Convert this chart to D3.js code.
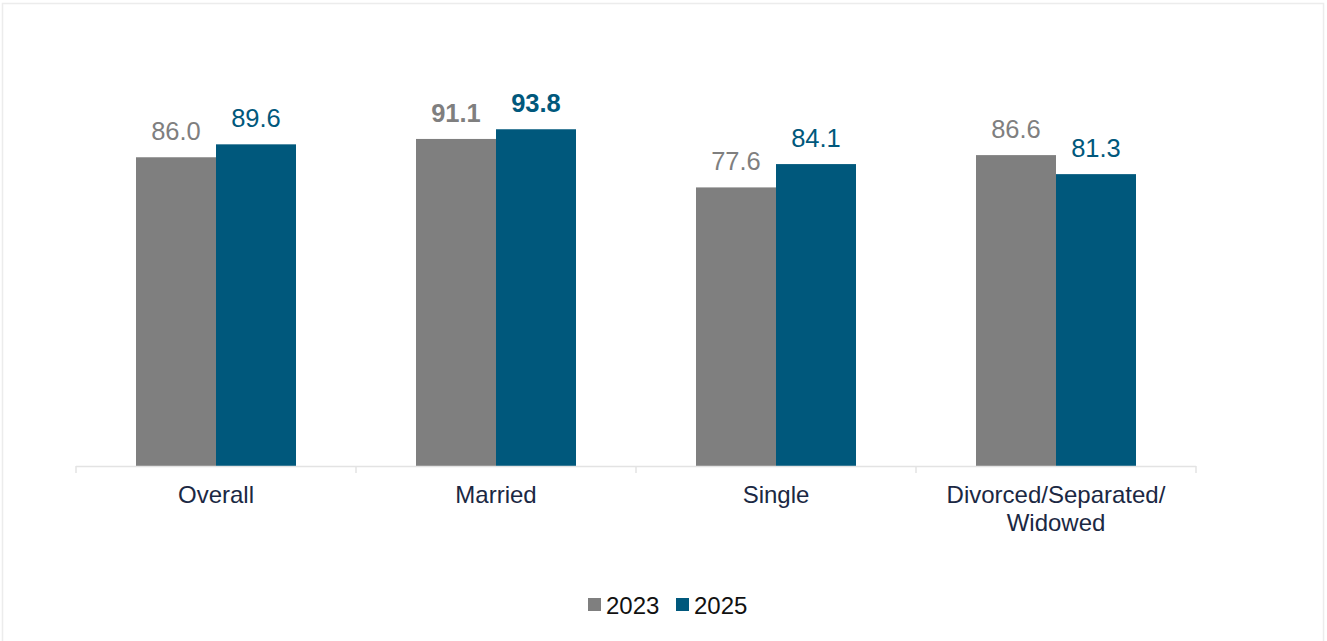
<!DOCTYPE html>
<html>
<head>
<meta charset="utf-8">
<script src="https://cdn.jsdelivr.net/npm/d3@7"></script>
<style>
  html, body { margin: 0; padding: 0; background: #fff; }
  svg { display: block; font-family: "Liberation Sans", Arial, sans-serif; }
</style>
</head>
<body>
<svg id="chart" width="1327" height="641"></svg>
<script>
const categories = ["Overall", "Married", "Single", "Divorced/Separated/\nWidowed"];
const seriesNames = ["2023", "2025"];
const values2023 = [86.0, 91.1, 77.6, 86.6];
const values2025 = [89.6, 93.8, 84.1, 81.3];
const boldCategory = ["Married"];

const colors = { "2023": "#7f7f7f", "2025": "#00587c" };

const svg = d3.select("#chart");

// outer frame
svg.append("rect")
  .attr("x", 2.5).attr("y", 3.5)
  .attr("width", 1321).attr("height", 700)
  .attr("fill", "none").attr("stroke", "#ececec").attr("stroke-width", 1.5);

const x0 = d3.scaleBand().domain(categories).range([76, 1196])
  .paddingInner(120 / 280).paddingOuter(60 / 280);
const x1 = d3.scaleBand().domain(seriesNames).range([0, x0.bandwidth()]);
const y = d3.scaleLinear().domain([0, 100]).range([466, 107]);

const data = categories.map((c, i) => ({
  cat: c,
  vals: [
    { s: "2023", v: values2023[i] },
    { s: "2025", v: values2025[i] }
  ]
}));

const groups = svg.append("g").selectAll("g").data(data).join("g")
  .attr("transform", d => `translate(${x0(d.cat)},0)`);

groups.selectAll("rect").data(d => d.vals).join("rect")
  .attr("x", d => x1(d.s))
  .attr("y", d => y(d.v))
  .attr("width", x1.bandwidth())
  .attr("height", d => y(0) - y(d.v))
  .attr("fill", d => colors[d.s]);

groups.each(function(d) {
  const bold = boldCategory.includes(d.cat);
  d3.select(this).selectAll("text.val").data(d.vals).join("text")
    .attr("class", "val")
    .attr("x", v => x1(v.s) + x1.bandwidth() / 2)
    .attr("y", v => y(v.v) - 17)
    .attr("text-anchor", "middle")
    .attr("font-size", "25.5px")
    .attr("font-weight", bold ? "bold" : "normal")
    .attr("fill", v => colors[v.s])
    .text(v => v.v.toFixed(1));
});

// axis line and ticks
const step = x0.step();
const axisG = svg.append("g");
axisG.append("line")
  .attr("x1", 76).attr("x2", 1196)
  .attr("y1", 466.5).attr("y2", 466.5)
  .attr("stroke", "#e3e3e3").attr("stroke-width", 1.5);
const tickXs = d3.range(categories.length + 1).map(i => 76 + i * step);
axisG.selectAll("line.tick").data(tickXs).join("line")
  .attr("class", "tick")
  .attr("x1", d => d).attr("x2", d => d)
  .attr("y1", 466).attr("y2", 473)
  .attr("stroke", "#e3e3e3").attr("stroke-width", 1.5);

// category labels
const catG = svg.append("g");
data.forEach(d => {
  const lines = d.cat.split("\n");
  const t = catG.append("text")
    .attr("x", x0(d.cat) + x0.bandwidth() / 2)
    .attr("y", 503)
    .attr("text-anchor", "middle")
    .attr("font-size", "24px")
    .attr("fill", "#1b2843");
  lines.forEach((ln, i) => {
    t.append("tspan")
      .attr("x", x0(d.cat) + x0.bandwidth() / 2)
      .attr("dy", i === 0 ? 0 : 28)
      .text(ln);
  });
});

// legend
const legend = svg.append("g");
const legendItems = [
  { s: "2023", x: 588 },
  { s: "2025", x: 676 }
];
legendItems.forEach(it => {
  legend.append("rect")
    .attr("x", it.x).attr("y", 598)
    .attr("width", 13).attr("height", 13)
    .attr("fill", colors[it.s]);
  legend.append("text")
    .attr("x", it.x + 18).attr("y", 614)
    .attr("font-size", "24px")
    .attr("fill", "#111")
    .text(it.s);
});
</script>
</body>
</html>
